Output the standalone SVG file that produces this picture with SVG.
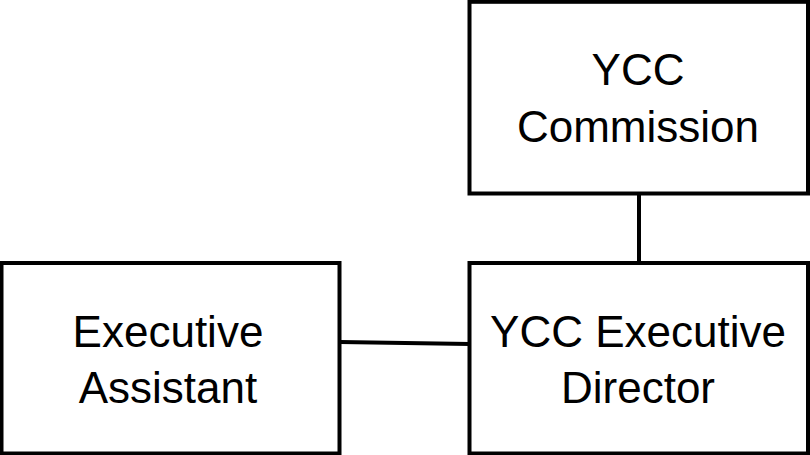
<svg xmlns="http://www.w3.org/2000/svg" width="810" height="455" viewBox="0 0 810 455">
<style>
.box{fill:#fff;stroke:#000;stroke-width:4}
.lbl{font-family:"Liberation Sans",Arial,sans-serif;font-size:44px;fill:#000;text-anchor:middle}
.conn{stroke:#000;stroke-width:4;fill:none}
</style>
<rect x="0" y="0" width="810" height="455" fill="#fff"/>
<g id="connectors">
<line class="conn" x1="639" y1="194" x2="639" y2="262"/>
<line class="conn" x1="340" y1="342" x2="470" y2="344"/>
</g>
<g id="commission">
<rect class="box" x="469.5" y="1.8" width="338.5" height="191.7"/>
<text class="lbl" x="638" y="85">YCC</text>
<text class="lbl" x="638" y="141.5">Commission</text>
</g>
<g id="assistant">
<rect class="box" x="1.5" y="263" width="338" height="190.5"/>
<text class="lbl" x="168" y="346.5">Executive</text>
<text class="lbl" x="168" y="403">Assistant</text>
</g>
<g id="director">
<rect class="box" x="469.5" y="263" width="338.5" height="190.5"/>
<text class="lbl" x="638" y="346.5">YCC Executive</text>
<text class="lbl" x="638" y="403">Director</text>
</g>
</svg>
